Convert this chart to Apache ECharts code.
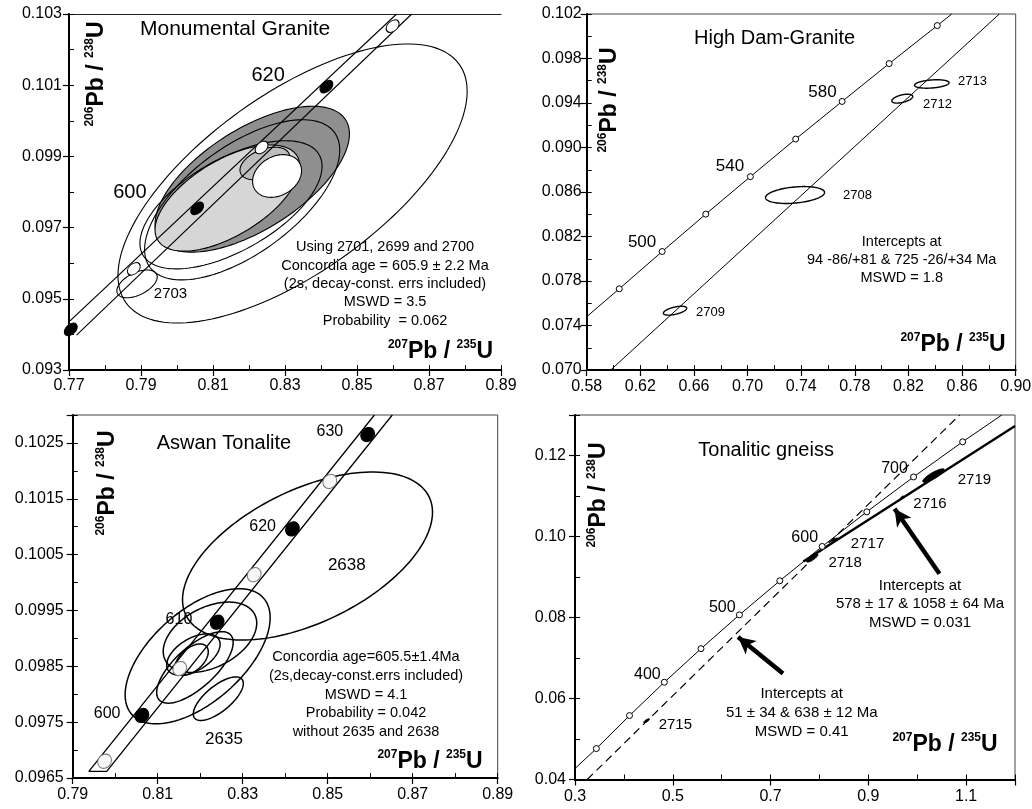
<!DOCTYPE html>
<html>
<head>
<meta charset="utf-8">
<script src="https://cdn.jsdelivr.net/npm/echarts@6/dist/echarts.min.js"></script>
<style>
html, body { margin: 0; padding: 0; background: #fff; }
#chart { width: 1032px; height: 809px; }
</style>
</head>
<body>
<div id="chart"></div>
<script>
const FONT = '"Liberation Sans", Arial, Helvetica, sans-serif';

// ---------- Monumental Granite ----------
const mgAges = [580, 590, 600, 610, 620, 630];
const mgX = [0.7705, 0.7880, 0.8056, 0.8235, 0.8415, 0.8599];
const mgY = [0.09414, 0.09584, 0.09754, 0.09925, 0.10096, 0.10266];
const mgBandLeft = [[0.7690, 0.09426], [0.8610, 0.10300]];
const mgBandRight = [[0.7721, 0.09398], [0.8652, 0.10300]];
// error ellipses: [centre x, centre y, 2s x, 2s y, correlation]
const mgFilledEllipses = [
  [0.8209, 0.09836, 0.0270, 0.00205, 0.62],
  [0.8140, 0.09783, 0.0201, 0.00149, 0.60],
  [0.8244, 0.09880, 0.0069, 0.00046, 0.40],
  [0.8278, 0.09845, 0.0068, 0.00060, 0.25]
];
const mgFillColors = ['#8f8f8f', '#d6d6d6', '#bdbdbd', '#ffffff'];
const mgOpenEllipses = [
  [0.8321, 0.09824, 0.0485, 0.00392, 0.66],
  [0.8181, 0.09778, 0.0271, 0.00225, 0.62],
  [0.8150, 0.09764, 0.0253, 0.00180, 0.60],
  [0.7889, 0.09542, 0.0056, 0.00039, 0.50]
];
const mgAgeLabels = [['600', 0.7869, 0.0980], ['620', 0.8253, 0.10126]];
const mgSampleLabels = [['2703', 0.7982, 0.09513]];
const mgXTicks = ['0.77', '0.79', '0.81', '0.83', '0.85', '0.87', '0.89'];
const mgYTicks = ['0.093', '0.095', '0.097', '0.099', '0.101', '0.103'];

// ---------- High Dam-Granite ----------
const hdAges = [480, 500, 520, 540, 560, 580, 600, 620];
const hdX = [0.6043, 0.6363, 0.6688, 0.7021, 0.7359, 0.7705, 0.8056, 0.8415];
const hdY = [0.07730, 0.08065, 0.08401, 0.08738, 0.09076, 0.09414, 0.09754, 0.10096];
const hdCurveEnds = [[0.5800, 0.07479], [0.8523, 0.10200]];
const hdDiscordia = [[0.5979, 0.07000], [0.8878, 0.10200]];
const hdEllipses = [
  [0.6459, 0.07533, 0.0087, 0.00040, 0.55],
  [0.7354, 0.08573, 0.0220, 0.00076, 0.30],
  [0.8154, 0.09439, 0.0078, 0.00040, 0.50],
  [0.8374, 0.09571, 0.0129, 0.00038, 0.30]
];
const hdAgeLabels = [['500', 0.6213, 0.08151], ['540', 0.6869, 0.08834], ['580', 0.7559, 0.09499]];
const hdSampleLabels = [['2709', 0.6723, 0.07515], ['2708', 0.7820, 0.08573], ['2712', 0.8417, 0.09391], ['2713', 0.8678, 0.09598]];
const hdXTicks = ['0.58', '0.62', '0.66', '0.70', '0.74', '0.78', '0.82', '0.86', '0.90'];
const hdYTicks = ['0.070', '0.074', '0.078', '0.082', '0.086', '0.090', '0.094', '0.098', '0.102'];

// ---------- Aswan Tonalite ----------
const atAges = [595, 600, 605, 610, 615, 620, 625, 630];
const atX = [0.7975, 0.8063, 0.8152, 0.8240, 0.8327, 0.8417, 0.8505, 0.8594];
const atY = [0.09680, 0.09762, 0.09846, 0.09929, 0.10014, 0.10096, 0.10181, 0.10265];
const atBand = [[0.8610, 0.10300], [0.7938, 0.09662], [0.7980, 0.09662], [0.8652, 0.10300]];
const atEllipses = [
  [0.84525, 0.100475, 0.02941, 0.001505, 0.52],
  [0.82426, 0.09792, 0.00588, 0.00039, 0.70],
  [0.8194, 0.09868, 0.01706, 0.00121, 0.57],
  [0.8223, 0.09902, 0.0110, 0.00063, 0.40],
  [0.8184, 0.09871, 0.00628, 0.00037, 0.50],
  [0.8180, 0.09862, 0.0039, 0.00028, 0.50],
  [0.81876, 0.09848, 0.0090, 0.00064, 0.70]
];
const atAgeLabels = [['600', 0.7981, 0.09765], ['610', 0.8150, 0.09933], ['620', 0.8347, 0.10100], ['630', 0.8505, 0.10270]];
const atSampleLabels = [['2638', 0.8545, 0.10030], ['2635', 0.8256, 0.09719]];
const atXTicks = ['0.79', '0.81', '0.83', '0.85', '0.87', '0.89'];
const atYTicks = ['0.0965', '0.0975', '0.0985', '0.0995', '0.1005', '0.1015', '0.1025'];

// ---------- Tonalitic gneiss ----------
const tgAges = [300, 350, 400, 450, 500, 550, 600, 650, 700, 750];
const tgX = [0.3437, 0.4115, 0.4828, 0.5577, 0.6363, 0.7189, 0.8056, 0.8968, 0.9925, 1.0929];
const tgY = [0.04764, 0.05579, 0.06402, 0.07230, 0.08065, 0.08906, 0.09754, 0.10609, 0.11470, 0.12338];
const tgCurveEnds = [[0.3000, 0.04270], [1.1730, 0.13000]];
const tgDashed = [[0.3250, 0.04000], [1.0866, 0.13000]];
const tgChord = [[0.7670, 0.09380], [1.2000, 0.12730]];
const tgEllipses = [
  [1.0333, 0.11506, 0.0221, 0.00165, 0.85],
  [0.9693, 0.10971, 0.0030, 0.00030, 0.70],
  [0.8310, 0.09920, 0.0075, 0.00040, 0.70],
  [0.7851, 0.09471, 0.0118, 0.00104, 0.80],
  [0.4464, 0.05450, 0.0060, 0.00050, 0.80]
];
const tgArrows = [[[1.0455, 0.09081], [0.9536, 0.10685]], [[0.7254, 0.06615], [0.6335, 0.07518]]];
const tgAgeLabels = [['400', 0.4481, 0.0660], ['500', 0.6013, 0.0825], ['600', 0.7698, 0.09977], ['700', 0.9536, 0.11679]];
const tgSampleLabels = [['2719', 1.1170, 0.11408], ['2716', 1.0261, 0.10816], ['2717', 0.8984, 0.09829], ['2718', 0.8525, 0.09360], ['2715', 0.5053, 0.05339]];
const tgXTicks = ['0.3', '0.5', '0.7', '0.9', '1.1'];
const tgYTicks = ['0.04', '0.06', '0.08', '0.10', '0.12'];

// ---------- helpers ----------
function axisPair(dim, gi, min, max, major, minor, ticks, dec, margin) {
  const pos = dim === 'x' ? 'bottom' : 'left';
  return [{
    type: 'value', gridIndex: gi, min: min, max: max, interval: major, position: pos,
    axisLine: { show: true, onZero: false, lineStyle: { color: '#000', width: 2 } },
    axisTick: { show: true, length: 6, lineStyle: { color: '#000', width: 1.2 } },
    axisLabel: {
      show: true, margin: margin, color: '#000', fontSize: 16, fontFamily: FONT,
      formatter: function (v) { const s = v.toFixed(dec); return ticks.indexOf(s) >= 0 ? s : ''; }
    },
    splitLine: { show: false }
  }, {
    type: 'value', gridIndex: gi, min: min, max: max, interval: minor, position: pos,
    axisLine: { show: false, onZero: false },
    axisTick: { show: true, inside: true, length: 5, lineStyle: { color: '#000', width: 1 } },
    axisLabel: { show: false },
    splitLine: { show: false }
  }];
}

// plain frame edge (top border) for a panel without a full box
function frameTop(gi, min, max) {
  return {
    type: 'value', gridIndex: gi, min: min, max: max, position: 'top',
    axisLine: { show: true, onZero: false, lineStyle: { color: '#222', width: 1.2 } },
    axisTick: { show: false }, axisLabel: { show: false }, splitLine: { show: false }
  };
}

function pts(xs, ys) { return xs.map((x, i) => [x, ys[i]]); }

function lineSeries(gi, data, width, color, type, z) {
  return {
    type: 'line', xAxisIndex: 2 * gi, yAxisIndex: 2 * gi, data: data, symbol: 'none',
    showSymbol: false, silent: true, z: z || 3, clip: true,
    lineStyle: { color: color || '#000', width: width, type: type || 'solid' }
  };
}

function ellipseSeries(gi, list, fills, strokeWidth, z) {
  return {
    type: 'custom', coordinateSystem: 'cartesian2d', xAxisIndex: 2 * gi, yAxisIndex: 2 * gi,
    data: list, clip: true, silent: true, z: z, encode: { x: 0, y: 1 },
    renderItem: function (params, api) {
      const cx = api.value(0), cy = api.value(1), sx = api.value(2), sy = api.value(3), rho = api.value(4);
      const k = Math.sqrt(1 - rho * rho);
      const poly = [];
      for (let i = 0; i < 144; i++) {
        const t = 2 * Math.PI * i / 144;
        poly.push(api.coord([cx + sx * Math.cos(t), cy + sy * (rho * Math.cos(t) + k * Math.sin(t))]));
      }
      const fill = fills ? fills[params.dataIndex] : 'none';
      return { type: 'polygon', shape: { points: poly }, style: { fill: fill, stroke: '#000', lineWidth: strokeWidth } };
    }
  };
}

function markerSeries(gi, data, size, rotate, fill, border, borderWidth) {
  return {
    type: 'scatter', xAxisIndex: 2 * gi, yAxisIndex: 2 * gi, data: data, clip: false, silent: true, z: 6,
    symbol: 'circle', symbolSize: size, symbolRotate: rotate,
    itemStyle: { color: fill, borderColor: border, borderWidth: borderWidth, opacity: 1 }
  };
}

function labelSeries(gi, list, size) {
  return {
    type: 'scatter', xAxisIndex: 2 * gi, yAxisIndex: 2 * gi, symbolSize: 0, silent: true, z: 8, clip: false,
    itemStyle: { color: '#000', opacity: 1 },
    data: list.map(l => ({ name: l[0], value: [l[1], l[2]] })),
    label: {
      show: true, position: 'inside', formatter: '{b}', color: '#000', opacity: 1,
      textBorderWidth: 0, textBorderColor: 'transparent', fontSize: size, fontFamily: FONT
    },
    emphasis: { disabled: true }
  };
}

function split(ages, xs, ys, test) {
  const a = [], b = [];
  ages.forEach((age, i) => (test(age) ? a : b).push([xs[i], ys[i]]));
  return [a, b];
}

// ---------- grids & axes ----------
const grids = [
  { left: 69, top: 14, width: 432, height: 356, show: false },
  { left: 586.7, top: 14, width: 429, height: 356, show: true },
  { left: 72.7, top: 415, width: 425, height: 363, show: true },
  { left: 575, top: 415, width: 440, height: 364.5, show: true }
].map(g => Object.assign(g, { borderColor: '#444', borderWidth: 1, backgroundColor: 'transparent', containLabel: false, outerBoundsMode: 'none' }));

const xAxes = [].concat(
  axisPair('x', 0, 0.77, 0.89, 0.02, 0.01, mgXTicks, 2, 8),
  axisPair('x', 1, 0.58, 0.90, 0.04, 0.02, hdXTicks, 2, 9),
  axisPair('x', 2, 0.79, 0.89, 0.02, 0.01, atXTicks, 2, 9),
  axisPair('x', 3, 0.3, 1.2, 0.2, 0.1, tgXTicks, 1, 9),
  [frameTop(0, 0.77, 0.89)]
);
const yAxes = [].concat(
  axisPair('y', 0, 0.093, 0.103, 0.002, 0.001, mgYTicks, 3, 7),
  axisPair('y', 1, 0.070, 0.102, 0.004, 0.002, hdYTicks, 3, 5),
  axisPair('y', 2, 0.0965, 0.1030, 0.001, 0.0005, atYTicks, 4, 9),
  axisPair('y', 3, 0.04, 0.13, 0.02, 0.01, tgYTicks, 2, 9)
);

// ---------- series ----------
const series = [];

// Monumental Granite
const mgMarks = split(mgAges, mgX, mgY, a => a % 20 === 0);
series.push(ellipseSeries(0, mgFilledEllipses, mgFillColors, 1.1, 1));
series.push(lineSeries(0, mgBandLeft, 1.1, '#000', 'solid', 2));
series.push(lineSeries(0, mgBandRight, 1.1, '#000', 'solid', 2));
series.push(ellipseSeries(0, mgOpenEllipses, null, 1.1, 3));
series.push(markerSeries(0, mgMarks[0], [15, 10], 43, '#000', '#000', 1));
series.push(markerSeries(0, mgMarks[1], [15, 10], 43, '#fff', '#000', 1));
series.push(labelSeries(0, mgAgeLabels, 20));
series.push(labelSeries(0, mgSampleLabels, 15));

// High Dam-Granite
series.push(lineSeries(1, [hdCurveEnds[0]].concat(pts(hdX, hdY), [hdCurveEnds[1]]), 1, '#000', 'solid', 2));
series.push(lineSeries(1, hdDiscordia, 1, '#000', 'solid', 2));
series.push(ellipseSeries(1, hdEllipses, null, 1.4, 3));
series.push(markerSeries(1, pts(hdX, hdY), 6, 0, '#fff', '#000', 1));
series.push(labelSeries(1, hdAgeLabels, 17));
series.push(labelSeries(1, hdSampleLabels, 13));

// Aswan Tonalite
const atMarks = split(atAges, atX, atY, a => a % 10 === 0);
series.push(lineSeries(2, atBand, 1.3, '#000', 'solid', 2));
series.push(ellipseSeries(2, atEllipses, null, 1.5, 3));
series.push(markerSeries(2, atMarks[0], [15, 13], 51, '#000', '#000', 1));
series.push(markerSeries(2, atMarks[1], [15, 13], 51, '#f6f6f6', '#777', 1));
series.push(labelSeries(2, atAgeLabels, 16));
series.push(labelSeries(2, atSampleLabels, 17));

// Tonalitic gneiss
const tgCurve = lineSeries(3, [tgCurveEnds[0]].concat(pts(tgX, tgY), [tgCurveEnds[1]]), 1, '#000', 'solid', 2);
tgCurve.markLine = {
  silent: true, symbol: ['none', 'arrow'], symbolSize: [13, 17], animation: false,
  label: { show: false },
  lineStyle: { color: '#000', width: 4.5, type: 'solid' },
  data: tgArrows.map(a => [{ coord: a[0] }, { coord: a[1] }])
};
series.push(tgCurve);
series.push(lineSeries(3, tgDashed, 1.2, '#000', [8, 5], 2));
series.push(lineSeries(3, tgChord, 2.4, '#000', 'solid', 2));
series.push(ellipseSeries(3, tgEllipses, tgEllipses.map(() => '#000'), 1, 4));
series.push(markerSeries(3, pts(tgX, tgY), 6, 0, '#fff', '#000', 1));
series.push(labelSeries(3, tgAgeLabels, 16));
series.push(labelSeries(3, tgSampleLabels, 15));

// ---------- titles, notes and axis names ----------
function ratioTitle(num, den, cx, cy, vertical) {
  return {
    type: 'text', x: cx, y: cy, rotation: vertical ? Math.PI / 2 : 0, z: 20,
    style: {
      text: '{s|' + num + '}{b|Pb / }{s|' + den + '}{b|U}',
      textAlign: 'center', textVerticalAlign: 'middle', fill: '#000',
      rich: {
        s: { fontSize: 12, fontWeight: 'bold', fontFamily: FONT, lineHeight: 14, verticalAlign: 'top' },
        b: { fontSize: 23, fontWeight: 'bold', fontFamily: FONT, lineHeight: 26 }
      }
    }
  };
}
function note(text, cx, cy, size, lh, align) {
  return {
    type: 'text', x: cx, y: cy, z: 20,
    style: {
      text: text, fill: '#000', fontSize: size, fontFamily: FONT, lineHeight: lh,
      textAlign: align || 'center', textVerticalAlign: 'middle'
    }
  };
}

const graphics = [
  note('Monumental Granite', 140, 29, 21, 24, 'left'),
  note('Using 2701, 2699 and 2700\nConcordia age = 605.9 \u00b1 2.2 Ma\n(2s, decay-const. errs included)\nMSWD = 3.5\nProbability  = 0.062', 385, 284, 14.5, 18.3),
  ratioTitle('207', '235', 440.5, 352, false),
  ratioTitle('206', '238', 97, 74, true),

  note('High Dam-Granite', 694, 38, 20, 24, 'left'),
  note('Intercepts at\n94 -86/+81 & 725 -26/+34 Ma\nMSWD = 1.8', 901.7, 260, 14.5, 18.3),
  ratioTitle('207', '235', 953, 345, false),
  ratioTitle('206', '238', 610, 100, true),

  note('Aswan Tonalite', 156.7, 443, 20, 24, 'left'),
  note('Concordia age=605.5\u00b11.4Ma\n(2s,decay-const.errs included)\nMSWD = 4.1\nProbability = 0.042\nwithout 2635 and 2638', 366, 694.5, 14.5, 18.6),
  ratioTitle('207', '235', 430, 762, false),
  ratioTitle('206', '238', 107.5, 483, true),

  note('Tonalitic gneiss', 698.3, 450, 20, 24, 'left'),
  note('Intercepts at\n578 \u00b1 17 & 1058 \u00b1 64 Ma\nMSWD = 0.031', 920, 604, 15, 18.5),
  note('Intercepts at\n51 \u00b1 34 & 638 \u00b1 12 Ma\nMSWD = 0.41', 801.7, 713, 15, 18.8),
  ratioTitle('207', '235', 945, 745, false),
  ratioTitle('206', '238', 599, 495, true)
];

const chart = echarts.init(document.getElementById('chart'), null, { renderer: 'canvas' });
chart.setOption({
  animation: false,
  backgroundColor: '#fff',
  grid: grids,
  xAxis: xAxes,
  yAxis: yAxes,
  series: series,
  graphic: { elements: graphics }
});
</script>
</body>
</html>
